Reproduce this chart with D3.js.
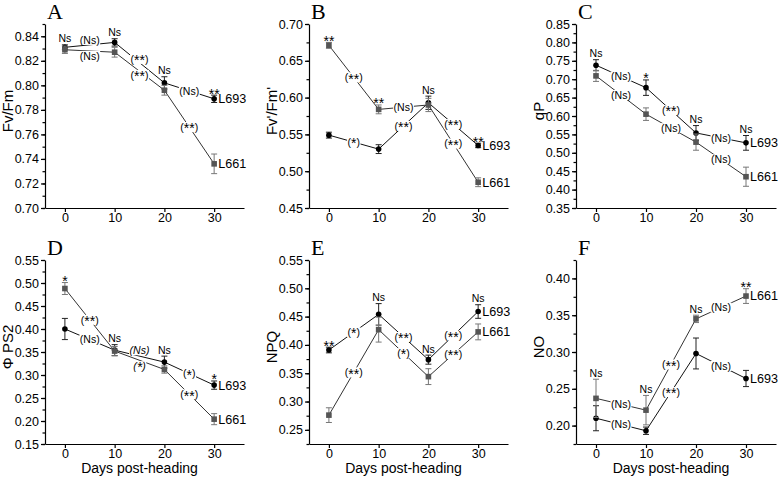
<!DOCTYPE html>
<html>
<head>
<meta charset="utf-8">
<script src="https://cdn.jsdelivr.net/npm/d3@7"></script>
<style>
  body { margin: 0; background: #fff; }
  svg { display: block; font-family: "Liberation Sans", Arial, sans-serif; }
</style>
</head>
<body>
<svg width="778" height="477"></svg>
<script>
// days after heading
const days = [0, 10, 20, 30];
const panels = ["A", "B", "C", "D", "E", "F"];
const yTitles = ["Fv/Fm", "Fv'/Fm'", "qP", "\u03A6 PS2", "NPQ", "NO"];
const yDomains = [[0.70, 0.85], [0.45, 0.70], [0.35, 0.85], [0.15, 0.55], [0.225, 0.55], [0.175, 0.425]];
const yTickStep = [0.02, 0.05, 0.05, 0.05, 0.05, 0.05];

// line L693 (circles)
const l693Mean = [
  [0.831, 0.835, 0.802, 0.789],
  [0.549, 0.530, 0.593, 0.535],
  [0.738, 0.677, 0.554, 0.527],
  [0.400, 0.354, 0.328, 0.278],
  [0.391, 0.454, 0.374, 0.459],
  [0.210, 0.193, 0.298, 0.264]
];
const l693Err = [
  [0.002, 0.003, 0.005, 0.003],
  [0.004, 0.006, 0.009, 0.003],
  [0.015, 0.021, 0.020, 0.020],
  [0.023, 0.012, 0.013, 0.009],
  [0.005, 0.019, 0.008, 0.012],
  [0.017, 0.005, 0.021, 0.011]
];
// line L661 (squares)
const l661Mean = [
  [0.829, 0.827, 0.796, 0.736],
  [0.671, 0.584, 0.590, 0.485],
  [0.709, 0.605, 0.529, 0.435],
  [0.488, 0.352, 0.312, 0.204],
  [0.276, 0.427, 0.344, 0.423],
  [0.237, 0.221, 0.345, 0.376]
];
const l661Err = [
  [0.003, 0.004, 0.004, 0.008],
  [0.004, 0.006, 0.009, 0.006],
  [0.015, 0.017, 0.022, 0.026],
  [0.013, 0.010, 0.008, 0.012],
  [0.013, 0.022, 0.014, 0.014],
  [0.026, 0.020, 0.005, 0.010]
];

// significance between lines at each day
const pointSig = [
  ["Ns", "Ns", "Ns", "**"],
  ["**", "**", "Ns", "**"],
  ["Ns", "*", "Ns", "Ns"],
  ["*", "Ns", "Ns", "*"],
  ["**", "Ns", "Ns", "Ns"],
  ["Ns", "Ns", "Ns", "**"]
];
// significance of change between successive days
const l693SegSig = [
  ["(Ns)", "(**)", "(Ns)"],
  ["(*)", "(**)", "(**)"],
  ["(Ns)", "(**)", "(Ns)"],
  ["(Ns)", "(Ns)", "(*)"],
  ["(*)", "(**)", "(**)"],
  ["(Ns)", "(**)", "(Ns)"]
];
const l661SegSig = [
  ["(Ns)", "(**)", "(**)"],
  ["(**)", "(Ns)", "(**)"],
  ["(Ns)", "(Ns)", "(Ns)"],
  ["(**)", "(*)", "(**)"],
  ["(**)", "(*)", "(**)"],
  ["(Ns)", "(**)", "(Ns)"]
];
const italicSegs = ["D-L693-1", "D-L661-1"];

const svg = d3.select("svg");
const colX = [[45, 244], [309, 508], [576, 776]];
const rowY = [[24, 208], [260, 444]];

const series = [
  { name: "L693", mean: l693Mean, err: l693Err, seg: l693SegSig, line: "#111", fill: "#000", bar: "#222", shape: "circle" },
  { name: "L661", mean: l661Mean, err: l661Err, seg: l661SegSig, line: "#333", fill: "#555", bar: "#777", shape: "square" }
];

// write a significance label, asterisks drawn with a bigger, lowered glyph
function sigText(t, label, size) {
  let shifted = 0;
  label.match(/\*+|[^*]+/g).forEach(part => {
    const star = part[0] === "*";
    const dy = (star ? 2.5 : 0) - shifted;
    shifted = star ? 2.5 : 0;
    t.append("tspan").attr("font-size", star ? 14 : size).attr("dy", dy).text(part);
  });
  return t;
}

panels.forEach((name, p) => {
  const [x0, x1] = colX[p % 3];
  const [y0, y1] = rowY[Math.floor(p / 3)];
  const x = d3.scaleLinear().domain([-4, 36]).range([x0, x1]);
  const y = d3.scaleLinear().domain(yDomains[p]).range([y1, y0]);
  const g = svg.append("g");

  // y ticks: labelled majors and minor ticks half way
  const step = yTickStep[p], [lo, hi] = yDomains[p];
  const r = v => Math.round(v * 1000) / 1000;
  const majors = d3.range(Math.ceil(lo / step - 1e-6), Math.floor(hi / step + 1e-6) + 1).map(k => r(k * step));
  const minors = d3.range(Math.ceil(lo / (step / 2) - 1e-6), Math.floor(hi / (step / 2) + 1e-6) + 1).map(k => r(k * step / 2));

  const minorAxis = g.append("g").attr("transform", `translate(${x0},0)`)
    .call(d3.axisLeft(y).tickValues(minors).tickSize(2.5).tickFormat(""));
  minorAxis.select(".domain").remove();
  const yAxis = g.append("g").attr("transform", `translate(${x0},0)`)
    .call(d3.axisLeft(y).tickValues(majors).tickSize(4).tickSizeOuter(0).tickPadding(2).tickFormat(d3.format(".2f")));
  const xAxis = g.append("g").attr("transform", `translate(0,${y1})`)
    .call(d3.axisBottom(x).tickValues(days).tickSize(4).tickSizeOuter(0).tickPadding(1));
  [yAxis, xAxis, minorAxis].forEach(a => {
    a.selectAll("path,line").attr("stroke", "#000").attr("stroke-width", 1.2);
    a.selectAll("text").attr("font-size", 12.5).attr("fill", "#000")
      .attr("font-family", "Liberation Sans, Arial, sans-serif");
  });

  // panel letter and titles
  g.append("text").attr("x", x0 + 2).attr("y", y0 - 5)
    .attr("font-family", "Liberation Serif, Times New Roman, serif").attr("font-size", 22)
    .text(name);
  g.append("text")
    .attr("transform", `translate(${x0 - 32},${(y0 + y1) / 2 - 5}) rotate(-90)`)
    .attr("text-anchor", "middle").attr("font-size", 15).text(yTitles[p]);
  if (p >= 3) {
    g.append("text").attr("x", x(15)).attr("y", 473)
      .attr("text-anchor", "middle").attr("font-size", 14).text("Days post-heading");
  }

  const pts = series.map(s => days.map((d, i) => ({ day: d, v: s.mean[p][i], e: s.err[p][i] })));
  const line = d3.line().x(d => x(d.day)).y(d => y(d.v));

  series.forEach((s, k) => {
    g.append("path").datum(pts[k]).attr("d", line)
      .attr("fill", "none").attr("stroke", s.line).attr("stroke-width", 1);
  });

  // segment labels, pushed apart when the two lines are close
  for (let i = 0; i < days.length - 1; i++) {
    const mids = series.map((s, k) => ({
      k, mx: (x(days[i]) + x(days[i + 1])) / 2,
      my: (y(pts[k][i].v) + y(pts[k][i + 1].v)) / 2
    }));
    const up = mids[0].my <= mids[1].my ? mids[0] : mids[1];
    const dn = up === mids[0] ? mids[1] : mids[0];
    const minGap = 16;
    if (dn.my - up.my < minGap) {
      const c = (up.my + dn.my) / 2;
      up.my = c - minGap / 2;
      dn.my = c + minGap / 2;
    }
    mids.forEach(m => {
      const s = series[m.k];
      const lg = g.append("g");
      const t = lg.append("text").attr("x", m.mx).attr("y", m.my + 3.7)
        .attr("text-anchor", "middle").attr("font-size", 10.5).attr("fill", "#000")
        .attr("font-style", italicSegs.includes(`${name}-${s.name}-${i}`) ? "italic" : "normal");
      sigText(t, s.seg[p][i], 10.5);
      const b = t.node().getBBox();
      lg.insert("rect", "text").attr("x", b.x - 0.5).attr("y", m.my - 5)
        .attr("width", b.width + 1).attr("height", 10).attr("fill", "#fff");
    });
  }

  // error bars and markers
  series.forEach((s, k) => {
    const eb = g.append("g").attr("stroke", s.bar).attr("stroke-width", 1);
    pts[k].forEach(d => {
      const cx = x(d.day), ya = y(d.v - d.e), yb = y(d.v + d.e);
      eb.append("line").attr("x1", cx).attr("x2", cx).attr("y1", ya).attr("y2", yb);
      eb.append("line").attr("x1", cx - 3).attr("x2", cx + 3).attr("y1", ya).attr("y2", ya);
      eb.append("line").attr("x1", cx - 3).attr("x2", cx + 3).attr("y1", yb).attr("y2", yb);
    });
    if (s.shape === "circle") {
      g.selectAll(null).data(pts[k]).enter().append("circle")
        .attr("cx", d => x(d.day)).attr("cy", d => y(d.v)).attr("r", 2.8).attr("fill", s.fill);
    } else {
      g.selectAll(null).data(pts[k]).enter().append("rect")
        .attr("x", d => x(d.day) - 2.8).attr("y", d => y(d.v) - 2.8)
        .attr("width", 5.6).attr("height", 5.6).attr("fill", s.fill);
    }
    const last = pts[k][days.length - 1];
    g.append("text").attr("x", x(last.day) + 4).attr("y", y(last.v)).attr("dy", "0.35em")
      .attr("font-size", 12.6).text(s.name);
  });

  // significance above each day
  days.forEach((d, i) => {
    const top = d3.min(pts, ps => y(ps[i].v + ps[i].e));
    const lab = pointSig[p][i];
    const star = lab.includes("*");
    const t = g.append("text").attr("x", x(d)).attr("y", star ? top + 1 : top - 2.5)
      .attr("text-anchor", "middle").attr("font-size", 10.5).attr("fill", "#000");
    sigText(t, lab, 10.5);
  });
});
</script>
</body>
</html>
